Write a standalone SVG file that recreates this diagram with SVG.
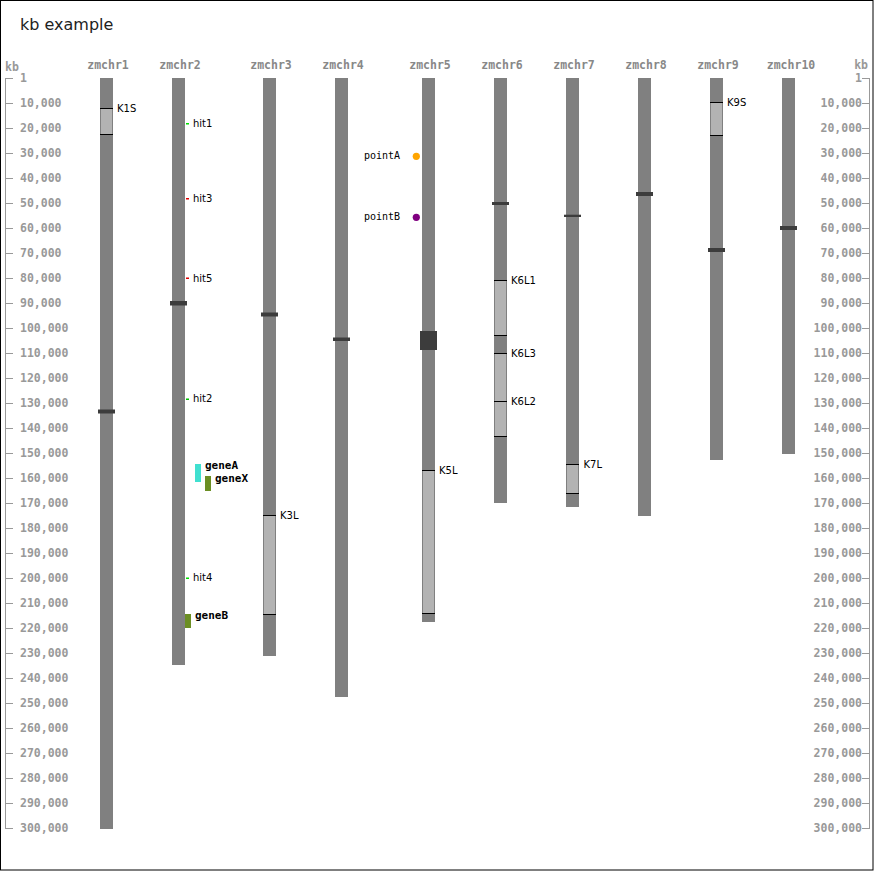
<svg xmlns="http://www.w3.org/2000/svg" width="874" height="871" viewBox="0 0 874 871">
<style>
.ax{font-family:"DejaVu Sans Mono","Liberation Mono",monospace;font-weight:bold;font-size:11.5px;fill:#999}
.cl{font-family:"DejaVu Sans Mono","Liberation Mono",monospace;font-weight:bold;font-size:11.5px;fill:#888;text-anchor:middle}
.axl{stroke:#999;stroke-width:1;fill:none}
.chr{fill:#808080}
.cen{fill:#3c3c3c}
.knob{fill:#b3b3b3}
.kl{stroke:#000;stroke-width:1}
.lab{font-family:"DejaVu Sans","Liberation Sans",sans-serif;font-size:10px;fill:#000}
.pl{font-family:"DejaVu Sans Mono","Liberation Mono",monospace;font-size:10px;fill:#000}
.gl{font-family:"DejaVu Sans Mono","Liberation Mono",monospace;font-weight:bold;font-size:11px;fill:#000}
</style>
<rect x="0.5" y="0.5" width="872.5" height="869.5" fill="#fff" stroke="#000" stroke-width="1"/>
<text x="20" y="30" font-family="DejaVu Sans, Liberation Sans, sans-serif" font-size="16" fill="#222">kb example</text>

<g id="axis-left">
<text class="ax" x="5" y="71">kb</text>
<path class="axl" d="M5.5 78V828.5 M5 78.5H13 M5 103.5H13 M5 128.5H13 M5 153.5H13 M5 178.5H13 M5 203.5H13 M5 228.5H13 M5 253.5H13 M5 278.5H13 M5 303.5H13 M5 328.5H13 M5 353.5H13 M5 378.5H13 M5 403.5H13 M5 428.5H13 M5 453.5H13 M5 478.5H13 M5 503.5H13 M5 528.5H13 M5 553.5H13 M5 578.5H13 M5 603.5H13 M5 628.5H13 M5 653.5H13 M5 678.5H13 M5 703.5H13 M5 728.5H13 M5 753.5H13 M5 778.5H13 M5 803.5H13 M5 828.5H13"/>
<g class="ax">
<text x="20" y="82">1</text>
<text x="20" y="107">10,000</text>
<text x="20" y="132">20,000</text>
<text x="20" y="157">30,000</text>
<text x="20" y="182">40,000</text>
<text x="20" y="207">50,000</text>
<text x="20" y="232">60,000</text>
<text x="20" y="257">70,000</text>
<text x="20" y="282">80,000</text>
<text x="20" y="307">90,000</text>
<text x="20" y="332">100,000</text>
<text x="20" y="357">110,000</text>
<text x="20" y="382">120,000</text>
<text x="20" y="407">130,000</text>
<text x="20" y="432">140,000</text>
<text x="20" y="457">150,000</text>
<text x="20" y="482">160,000</text>
<text x="20" y="507">170,000</text>
<text x="20" y="532">180,000</text>
<text x="20" y="557">190,000</text>
<text x="20" y="582">200,000</text>
<text x="20" y="607">210,000</text>
<text x="20" y="632">220,000</text>
<text x="20" y="657">230,000</text>
<text x="20" y="682">240,000</text>
<text x="20" y="707">250,000</text>
<text x="20" y="732">260,000</text>
<text x="20" y="757">270,000</text>
<text x="20" y="782">280,000</text>
<text x="20" y="807">290,000</text>
<text x="20" y="832">300,000</text>
</g>
</g>

<g id="axis-right">
<text class="ax" x="868" y="69" text-anchor="end">kb</text>
<path class="axl" d="M869.5 78V828.5 M862 78.5H870 M862 103.5H870 M862 128.5H870 M862 153.5H870 M862 178.5H870 M862 203.5H870 M862 228.5H870 M862 253.5H870 M862 278.5H870 M862 303.5H870 M862 328.5H870 M862 353.5H870 M862 378.5H870 M862 403.5H870 M862 428.5H870 M862 453.5H870 M862 478.5H870 M862 503.5H870 M862 528.5H870 M862 553.5H870 M862 578.5H870 M862 603.5H870 M862 628.5H870 M862 653.5H870 M862 678.5H870 M862 703.5H870 M862 728.5H870 M862 753.5H870 M862 778.5H870 M862 803.5H870 M862 828.5H870"/>
<g class="ax" text-anchor="end">
<text x="862" y="82">1</text>
<text x="862" y="107">10,000</text>
<text x="862" y="132">20,000</text>
<text x="862" y="157">30,000</text>
<text x="862" y="182">40,000</text>
<text x="862" y="207">50,000</text>
<text x="862" y="232">60,000</text>
<text x="862" y="257">70,000</text>
<text x="862" y="282">80,000</text>
<text x="862" y="307">90,000</text>
<text x="862" y="332">100,000</text>
<text x="862" y="357">110,000</text>
<text x="862" y="382">120,000</text>
<text x="862" y="407">130,000</text>
<text x="862" y="432">140,000</text>
<text x="862" y="457">150,000</text>
<text x="862" y="482">160,000</text>
<text x="862" y="507">170,000</text>
<text x="862" y="532">180,000</text>
<text x="862" y="557">190,000</text>
<text x="862" y="582">200,000</text>
<text x="862" y="607">210,000</text>
<text x="862" y="632">220,000</text>
<text x="862" y="657">230,000</text>
<text x="862" y="682">240,000</text>
<text x="862" y="707">250,000</text>
<text x="862" y="732">260,000</text>
<text x="862" y="757">270,000</text>
<text x="862" y="782">280,000</text>
<text x="862" y="807">290,000</text>
<text x="862" y="832">300,000</text>
</g>
</g>

<g id="zmchr1">
<text class="cl" x="108" y="69">zmchr1</text>
<rect class="chr" x="100" y="78" width="13" height="751"/>
<rect class="knob" x="101" y="108" width="11" height="26"/>
<path class="kl" d="M100 108.5H113 M100 134.5H113"/>
<rect class="cen" x="98" y="409.5" width="17" height="4"/>
<text class="lab" x="117" y="111.5">K1S</text>
</g>

<g id="zmchr2">
<text class="cl" x="180" y="69">zmchr2</text>
<rect class="chr" x="172" y="78" width="13" height="587"/>
<rect class="cen" x="170" y="301" width="17" height="4.5"/>
<g id="hit1"><rect x="186" y="123" width="3" height="1.5" fill="#00e000"/><text class="lab" x="193" y="127">hit1</text></g>
<g id="hit3"><rect x="186" y="198" width="3" height="1.5" fill="#e00000"/><text class="lab" x="193" y="202">hit3</text></g>
<g id="hit5"><rect x="186" y="277.5" width="3" height="1.5" fill="#e00000"/><text class="lab" x="193" y="282">hit5</text></g>
<g id="hit2"><rect x="186" y="398.5" width="3" height="1.5" fill="#00c000"/><text class="lab" x="193" y="402">hit2</text></g>
<g id="hit4"><rect x="186" y="577.5" width="3" height="1.5" fill="#00e000"/><text class="lab" x="193" y="581">hit4</text></g>
<g id="geneA"><rect x="195" y="464" width="6" height="18" fill="#40e0d0"/><text class="gl" x="205" y="468.5">geneA</text></g>
<g id="geneX"><rect x="205" y="476" width="6" height="15" fill="#6b8e23"/><text class="gl" x="215" y="481.5">geneX</text></g>
<g id="geneB"><rect x="185" y="614" width="6" height="14" fill="#6b8e23"/><text class="gl" x="195" y="619">geneB</text></g>
</g>

<g id="zmchr3">
<text class="cl" x="271" y="69">zmchr3</text>
<rect class="chr" x="263" y="78" width="13" height="578"/>
<rect class="cen" x="261" y="312.5" width="17" height="4"/>
<rect class="knob" x="264" y="515" width="11" height="99"/>
<path class="kl" d="M263 515.5H276 M263 614.5H276"/>
<text class="lab" x="280" y="518.5">K3L</text>
</g>

<g id="zmchr4">
<text class="cl" x="343" y="69">zmchr4</text>
<rect class="chr" x="335" y="78" width="13" height="619"/>
<rect class="cen" x="333" y="337.5" width="17" height="3.5"/>
</g>

<g id="zmchr5">
<text class="cl" x="430" y="69">zmchr5</text>
<rect class="chr" x="422" y="78" width="13" height="544"/>
<rect class="cen" x="420" y="331" width="17" height="19"/>
<rect class="knob" x="423" y="470" width="11" height="143"/>
<path class="kl" d="M422 470.5H435 M422 613.5H435"/>
<text class="lab" x="439" y="473.5">K5L</text>
<g id="pointA"><circle cx="416.3" cy="156.3" r="3.6" fill="#ffa500"/><text class="pl" x="364" y="159">pointA</text></g>
<g id="pointB"><circle cx="416.3" cy="217.3" r="3.6" fill="#800080"/><text class="pl" x="364" y="220">pointB</text></g>
</g>

<g id="zmchr6">
<text class="cl" x="502" y="69">zmchr6</text>
<rect class="chr" x="494" y="78" width="13" height="425"/>
<rect class="cen" x="492" y="202" width="17" height="3"/>
<rect class="knob" x="495" y="280" width="11" height="55"/>
<rect class="knob" x="495" y="353" width="11" height="83"/>
<path class="kl" d="M494 280.5H507 M494 335.5H507 M494 353.5H507 M494 401.5H507 M494 436.5H507"/>
<text class="lab" x="511" y="283.5">K6L1</text>
<text class="lab" x="511" y="356.5">K6L3</text>
<text class="lab" x="511" y="404.5">K6L2</text>
</g>

<g id="zmchr7">
<text class="cl" x="574" y="69">zmchr7</text>
<rect class="chr" x="566" y="78" width="13" height="429"/>
<rect class="cen" x="564" y="214.7" width="17" height="2.3"/>
<rect class="knob" x="567" y="464" width="11" height="29"/>
<path class="kl" d="M566 464.5H579 M566 493.5H579"/>
<text class="lab" x="583.5" y="467.5">K7L</text>
</g>

<g id="zmchr8">
<text class="cl" x="646" y="69">zmchr8</text>
<rect class="chr" x="638" y="78" width="13" height="438"/>
<rect class="cen" x="636" y="192" width="17" height="4"/>
</g>

<g id="zmchr9">
<text class="cl" x="718" y="69">zmchr9</text>
<rect class="chr" x="710" y="78" width="13" height="382"/>
<rect class="knob" x="711" y="102" width="11" height="33"/>
<path class="kl" d="M710 102.5H723 M710 135.5H723"/>
<rect class="cen" x="708" y="248" width="17" height="4"/>
<text class="lab" x="727" y="105.5">K9S</text>
</g>

<g id="zmchr10">
<text class="cl" x="791" y="69">zmchr10</text>
<rect class="chr" x="782" y="78" width="13" height="376"/>
<rect class="cen" x="780" y="226" width="17" height="4"/>
</g>

<g id="connectors"></g>
</svg>
